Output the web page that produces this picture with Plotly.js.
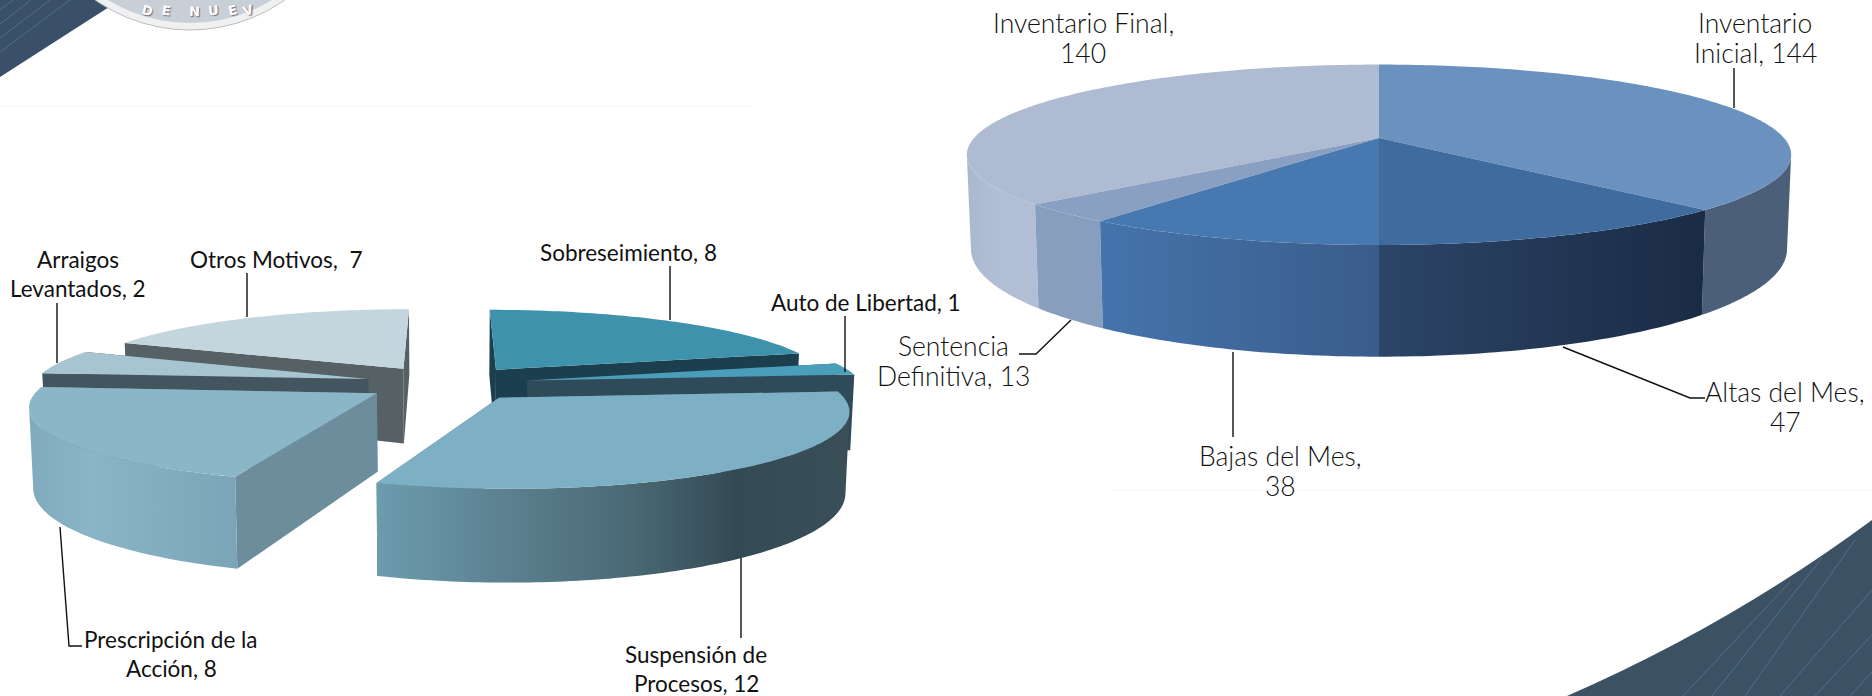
<!DOCTYPE html>
<html>
<head>
<meta charset="utf-8">
<script src="https://cdn.plot.ly/plotly-3.0.1.min.js"></script>
<style>html,body{margin:0;padding:0;background:#fff}#chart{width:1872px;height:696px}</style>
</head>
<body>
<div id="chart"></div>
<script>
// ---------- data ----------
const leftCategories = ['Sobreseimiento','Auto de Libertad','Suspensión de Procesos','Prescripción de la Acción','Arraigos Levantados','Otros Motivos'];
const leftValues = [8,1,12,8,2,7];
const rightCategories = ['Inventario Inicial','Altas del Mes','Bajas del Mes','Sentencia Definitiva','Inventario Final'];
const rightValues = [144,47,38,13,140];

const leftLabelLines = [['Sobreseimiento, 8'],['Auto de Libertad, 1'],['Suspensión de','Procesos, 12'],['Prescripción de la','Acción, 8'],['Arraigos','Levantados, 2'],['Otros Motivos,\u00A0 7']];
const rightLabelLines = [['Inventario','Inicial, 144'],['Altas del Mes,','47'],['Bajas del Mes,','38'],['Sentencia','Definitiva, 13'],['Inventario Final,','140']];

// ---------- projection of each pie ----------
const leftView  = {xc:447,  yc:383.3, A:335, B:72.6, k:0.15,   H:77, explode:0.245, shrink:0.99};
const rightView = {xc:1379, yc:138,   A:405, B:87.1, k:0.1857, H:91, explode:0,     shrink:0.99};

// ---------- styles ----------
const leftStyle = [
  {top:'#3F92AB', face:'#1B3F4E', wall:'#1B3F4E'},
  {top:'#4A9EBA', face:'#2F4B59', wall:'#2F4B59'},
  {top:'#7DB0C4', face:'#5A7E8D', wall:[[0,'#6C9CAE'],[0.3,'#5A7E8D'],[0.54,'#4A6975'],[0.76,'#334A54'],[1,'#3A4F58']]},
  {top:'#8AB6C8', face:'#6C8D9C', wall:[[0,'#80ABBD'],[0.3,'#8AB5C7'],[1,'#7BA5B7']]},
  {top:'#A6C5D1', face:'#43555E', wall:'#43555E'},
  {top:'#C3D5DD', face:'#566166', wall:'#566166'}
];
const leftOrder = [5,0,4,1,3,2];
const rightStyle = [
  {top:'#6B92BF', wall:'#4C5F78'},
  {top:'#3F6B9F', wall:[[0,'#2C4568'],[1,'#1A2B44']]},
  {top:'#4878B0', wall:[[0,'#4474AC'],[1,'#3A5C8A']]},
  {top:'#8AA0C2', wall:'#889EBF'},
  {top:'#AEBBD3', wall:[[0,'#A9B7CF'],[0.4,'#B1BED6'],[1,'#B1BED6']]}
];
const rightOrder = [4,0,3,2,1];

const leftLeaders = [
  [[670,266],[670,320]],
  [[845,316],[845,372]],
  [[741,558],[741,638]],
  [[60,527],[69,646],[82,646]],
  [[57,303],[57,363]],
  [[247,273],[247,317]]
];
const rightLeaders = [
  [[1734,68],[1734,108]],
  [[1563,347],[1690,398],[1705,398]],
  [[1233,352],[1233,437]],
  [[1071,320],[1036,354],[1019,354]],
  []
];
const leftLabelPos = [[628,252],[866,302],[696,654],[171,639],[78,259],[276,259]];
const rightLabelPos = [[1755,23],[1785,392],[1280,456],[953,346],[1083,23]];
const LINE_GAP = 29.5;
const leftFont  = {family:'Lato', size:22.5, color:'#111'};
const rightFont = {family:'Lato', size:26.5, color:'#111', weight:300};

// ---------- geometry ----------
const rad = d => d*Math.PI/180;
function ranges(values){
  const total = values.reduce((a,b)=>a+b,0); let c = 0;
  return values.map(v=>{const a=c/total*360; c+=v; return [a,c/total*360];});
}
function project(view,p,q){
  const s = 1/(1+view.k*q);
  return {x:view.xc+view.A*p*s, y:view.yc-view.B*q*s, s};
}
function sliceGeom(view,range){
  const mid = rad((range[0]+range[1])/2);
  const ox = view.explode*Math.sin(mid), oy = view.explode*Math.cos(mid);
  const rim = t => project(view, ox+Math.sin(rad(t)), oy+Math.cos(rad(t)));
  const apex = project(view,ox,oy);
  const lower = pt => ({x:view.xc+(pt.x-view.xc)*view.shrink, y:pt.y+view.H*pt.s});
  // silhouette of this slice's full disc: the rim angles with extreme x
  let tR=0,tL=0,mx=-1e9,mn=1e9;
  for(let t=0;t<360;t+=0.25){const x=rim(t).x; if(x>mx){mx=x;tR=t;} if(x<mn){mn=x;tL=t;}}
  return {rim,apex,lower,tR,tL};
}
function arc(a,b){const o=[];const n=Math.max(2,Math.ceil(Math.abs(b-a)));for(let i=0;i<=n;i++)o.push(a+(b-a)*i/n);return o;}
function poly(pts,fill){
  const xs=pts.map(p=>p.x), ys=pts.map(p=>p.y);
  const tr={type:'scatter',x:xs.concat(xs[0]),y:ys.concat(ys[0]),mode:'none',fill:'toself',hoverinfo:'skip',showlegend:false};
  if(Array.isArray(fill)){
    tr.fillgradient={type:'horizontal',colorscale:fill,start:Math.min(...xs),stop:Math.max(...xs)};
  } else tr.fillcolor=fill;
  return tr;
}
// only the part of the rim between the two silhouette points is ever seen
function wallPoly(g,a,b,fill){
  const fa=Math.max(a,g.tR), fb=Math.min(b,g.tL);
  if(fb<=fa) return null;
  const ts=arc(fa,fb);
  const top=ts.map(g.rim), bot=ts.map(t=>g.lower(g.rim(t))).reverse();
  return poly(top.concat(bot),fill);
}
function facePoly(g,t,fill){
  const r=g.rim(t);
  return poly([g.apex,r,g.lower(r),g.lower(g.apex)],fill);
}
function topPoly(g,a,b,fill){
  return poly([g.apex].concat(arc(a,b).map(g.rim)),fill);
}

const traces=[];
const push = t => { if(t) traces.push(t); };
// exploded pie on the left: radial faces, rim, top
const lr=ranges(leftValues);
leftOrder.forEach(i=>{
  const [a,b]=lr[i], st=leftStyle[i], g=sliceGeom(leftView,lr[i]);
  push(facePoly(g,a,st.face));
  push(facePoly(g,b,st.face));
  push(wallPoly(g,a,b,st.wall));
  push(topPoly(g,a,b,st.top));
});
// whole pie on the right: walls, then tops
const rr=ranges(rightValues);
rightOrder.forEach(i=>push(wallPoly(sliceGeom(rightView,rr[i]),rr[i][0],rr[i][1],rightStyle[i].wall)));
rightOrder.forEach(i=>push(topPoly(sliceGeom(rightView,rr[i]),rr[i][0],rr[i][1],rightStyle[i].top)));
// leader lines
leftLeaders.concat(rightLeaders).forEach(l=>{
  if(!l.length) return;
  traces.push({type:'scatter',x:l.map(p=>p[0]),y:l.map(p=>p[1]),mode:'lines',line:{color:'#111',width:1.4},hoverinfo:'skip',showlegend:false});
});

// ---------- labels ----------
const annotations=[];
function addLabels(lines,pos,font){
  lines.forEach((ls,i)=>ls.forEach((txt,j)=>annotations.push({
    x:pos[i][0],y:pos[i][1]+j*LINE_GAP,text:txt,showarrow:false,xanchor:'center',yanchor:'middle',font:font
  })));
}
addLabels(leftLabelLines,leftLabelPos,leftFont);
addLabels(rightLabelLines,rightLabelPos,rightFont);
// seal lettering
const sealLetters=['D','E','N','U','E','V'], sealX=[147,166,194,213,232,248], sealY=[10,10,11,10,10,10], sealA=[14,8,1,-5,-12,-18];
sealLetters.forEach((c,i)=>annotations.push({x:sealX[i],y:sealY[i],text:c,textangle:sealA[i],showarrow:false,xanchor:'center',yanchor:'middle',
  font:{family:'DejaVu Sans',size:13,color:'#fff',weight:700,shadow:'1px 1px 1px #667'}}));

// ---------- slide decoration ----------
const shapes=[
  {type:'path',path:'M0,0 L120,0 L0,77 Z',fillcolor:'#3A5068',line:{width:0},layer:'below'},
  {type:'path',path:'M1567,696 Q1730,625 1872,520 L1872,696 Z',fillcolor:'#3B5164',line:{width:0},layer:'below'}
];
[[0,10,13,0],[0,24,31,0],[0,38,50,0],[0,52,70,0]].concat(
 [[1683,696,1790,582],[1712,696,1822,558],[1745,696,1855,540],[1780,696,1872,590],[1815,696,1872,635],[1850,696,1872,672]]
).forEach(l=>shapes.push({type:'line',x0:l[0],y0:l[1],x1:l[2],y1:l[3],line:{color:'#566F88',width:1},layer:'below'}));
shapes.push({type:'circle',x0:25,x1:355,y0:-300,y1:30,fillcolor:'#EEF0F2',line:{color:'#BDBDBD',width:1},layer:'below'});
shapes.push({type:'circle',x0:32,x1:348,y0:-293,y1:23,fillcolor:'#C9CFD6',line:{width:0},layer:'below'});
shapes.push({type:'line',x0:0,x1:755,y0:106,y1:106,line:{color:'#F7F7F7',width:1},layer:'below'});
shapes.push({type:'line',x0:1110,x1:1872,y0:490,y1:490,line:{color:'#F7F7F7',width:1},layer:'below'});

Plotly.newPlot('chart',traces,{
  width:1872,height:696,margin:{l:0,r:0,t:0,b:0},
  paper_bgcolor:'#fff',plot_bgcolor:'#fff',showlegend:false,
  xaxis:{range:[0,1872],visible:false,fixedrange:true},
  yaxis:{range:[696,0],visible:false,fixedrange:true},
  shapes,annotations
},{displayModeBar:false,staticPlot:true});
</script>
</body>
</html>
